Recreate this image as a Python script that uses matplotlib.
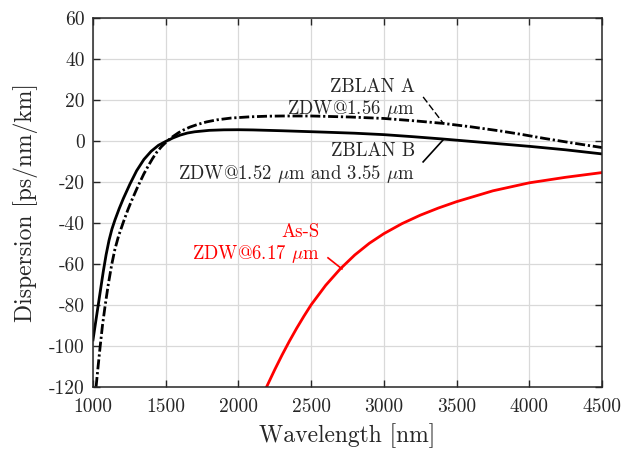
import matplotlib
matplotlib.use("Agg")
import matplotlib.pyplot as plt

plt.rcParams['font.family'] = 'serif'
plt.rcParams['font.serif'] = ['cmr10']
plt.rcParams['mathtext.fontset'] = 'cm'
plt.rcParams['axes.unicode_minus'] = False

# ZBLAN A (dash-dot)
wl_a = [1021, 1035, 1048, 1065, 1083, 1105, 1128, 1150, 1175, 1209, 1240, 1266, 1300, 1323, 1350,
        1381, 1410, 1438, 1470, 1506, 1550, 1587, 1620, 1667, 1720, 1780, 1850, 1950, 2080, 2200,
        2310, 2500, 2768, 3000, 3200, 3407, 3600, 3800, 3957, 4100, 4300, 4500]
d_a = [-120, -110, -101, -90, -80.5, -70, -60.5, -53, -46.5, -39.5, -33.5, -29, -23.5, -20, -16,
       -12, -8.5, -5.5, -2.8, -0.3, 2.2, 4.0, 5.3, 6.8, 8.1, 9.3, 10.3, 11.2, 11.8, 12.1,
       12.2, 12.2, 11.7, 11.0, 9.9, 8.6, 6.9, 4.9, 3.1, 1.3, -1.0, -3.2]

# ZBLAN B (solid)
wl_b = [1000, 1020, 1037, 1055, 1071, 1090, 1110, 1130, 1151, 1180, 1209, 1254, 1300, 1350, 1400,
        1450, 1500, 1550, 1600, 1650, 1700, 1800, 1900, 2000, 2100, 2300, 2600, 2800, 3000, 3200,
        3400, 3550, 3800, 4000, 4250, 4500]
d_b = [-97, -87.5, -79.5, -71, -63.5, -55.5, -48.5, -43, -38.5, -33, -28, -21, -14.5, -9.0, -5.0,
       -2.1, -0.2, 1.5, 2.9, 3.9, 4.5, 5.2, 5.45, 5.5, 5.4, 5.0, 4.3, 3.8, 3.1, 2.1,
       1.0, 0.1, -1.4, -2.6, -4.3, -6.3]

# As-S (red)
wl_c = [2190, 2250, 2300, 2350, 2400, 2450, 2500, 2600, 2700, 2800, 2900, 3000, 3125, 3250, 3375,
        3500, 3750, 4000, 4250, 4500]
d_c = [-120.5, -111.5, -104.4, -97.7, -91.4, -85.5, -79.9, -70.4, -62.4, -55.6, -49.9, -45.2, -40.3,
       -36.2, -32.7, -29.6, -24.3, -20.4, -17.7, -15.4]

xticks = [1000, 1500, 2000, 2500, 3000, 3500, 4000, 4500]
yticks = [-120, -100, -80, -60, -40, -20, 0, 20, 40, 60]

fig = plt.figure(figsize=(6.34, 4.5), dpi=100)
ax = fig.add_axes([0.1467, 0.14, 0.8028, 0.82])

ax.plot(wl_a, d_a, color='black', lw=2, linestyle=(0, (3.6, 1.0, 0.8, 1.0)))
ax.plot(wl_b, d_b, color='black', lw=2)
ax.plot(wl_c, d_c, color='#ff0000', lw=2)

ax.set_xlim(1000, 4500)
ax.set_ylim(-120, 60)
ax.set_xticks(xticks)
ax.set_xticklabels([str(t) for t in xticks])
ax.set_yticks(yticks)
ax.set_yticklabels([str(t) for t in yticks])
ax.tick_params(direction='in', top=True, right=True, labelsize=14, colors='#262626', length=5, width=1)
ax.tick_params(axis='x', pad=8)
ax.tick_params(axis='y', pad=6)
ax.grid(True, color='#d9d9d9', lw=0.9)
ax.set_axisbelow(True)
for s in ax.spines.values():
    s.set_color('#262626')
    s.set_linewidth(1.1)

ax.set_xlabel('Wavelength [nm]', fontsize=17, color='#262626', labelpad=5)
ax.set_ylabel('Dispersion [ps/nm/km]', fontsize=17, color='#262626', labelpad=8)

fs = 13.5
ax.text(3215, 23.9, 'ZBLAN A', ha='right', va='baseline', fontsize=fs, color='#262626')
ax.text(3215, 13.4, r'ZDW@1.56 $\mu$m', ha='right', va='baseline', fontsize=fs, color='#262626')
ax.plot([3270, 3407], [21.5, 8.8], color='black', lw=1, linestyle=(0, (5, 2)))

ax.text(3215, -7.3, 'ZBLAN B', ha='right', va='baseline', fontsize=fs, color='#262626')
ax.text(3215, -18.3, r'ZDW@1.52 $\mu$m and 3.55 $\mu$m', ha='right', va='baseline', fontsize=fs, color='#262626')
ax.plot([3270, 3407], [-10.2, 0.5], color='black', lw=1.2)

ax.text(2561, -46.8, 'As-S', ha='right', va='baseline', fontsize=fs, color='#ff0000')
ax.text(2561, -57.8, r'ZDW@6.17 $\mu$m', ha='right', va='baseline', fontsize=fs, color='#ff0000')
ax.plot([2616, 2712], [-57, -62.4], color='#ff0000', lw=1.2)

fig.savefig('out.png', dpi=100)
